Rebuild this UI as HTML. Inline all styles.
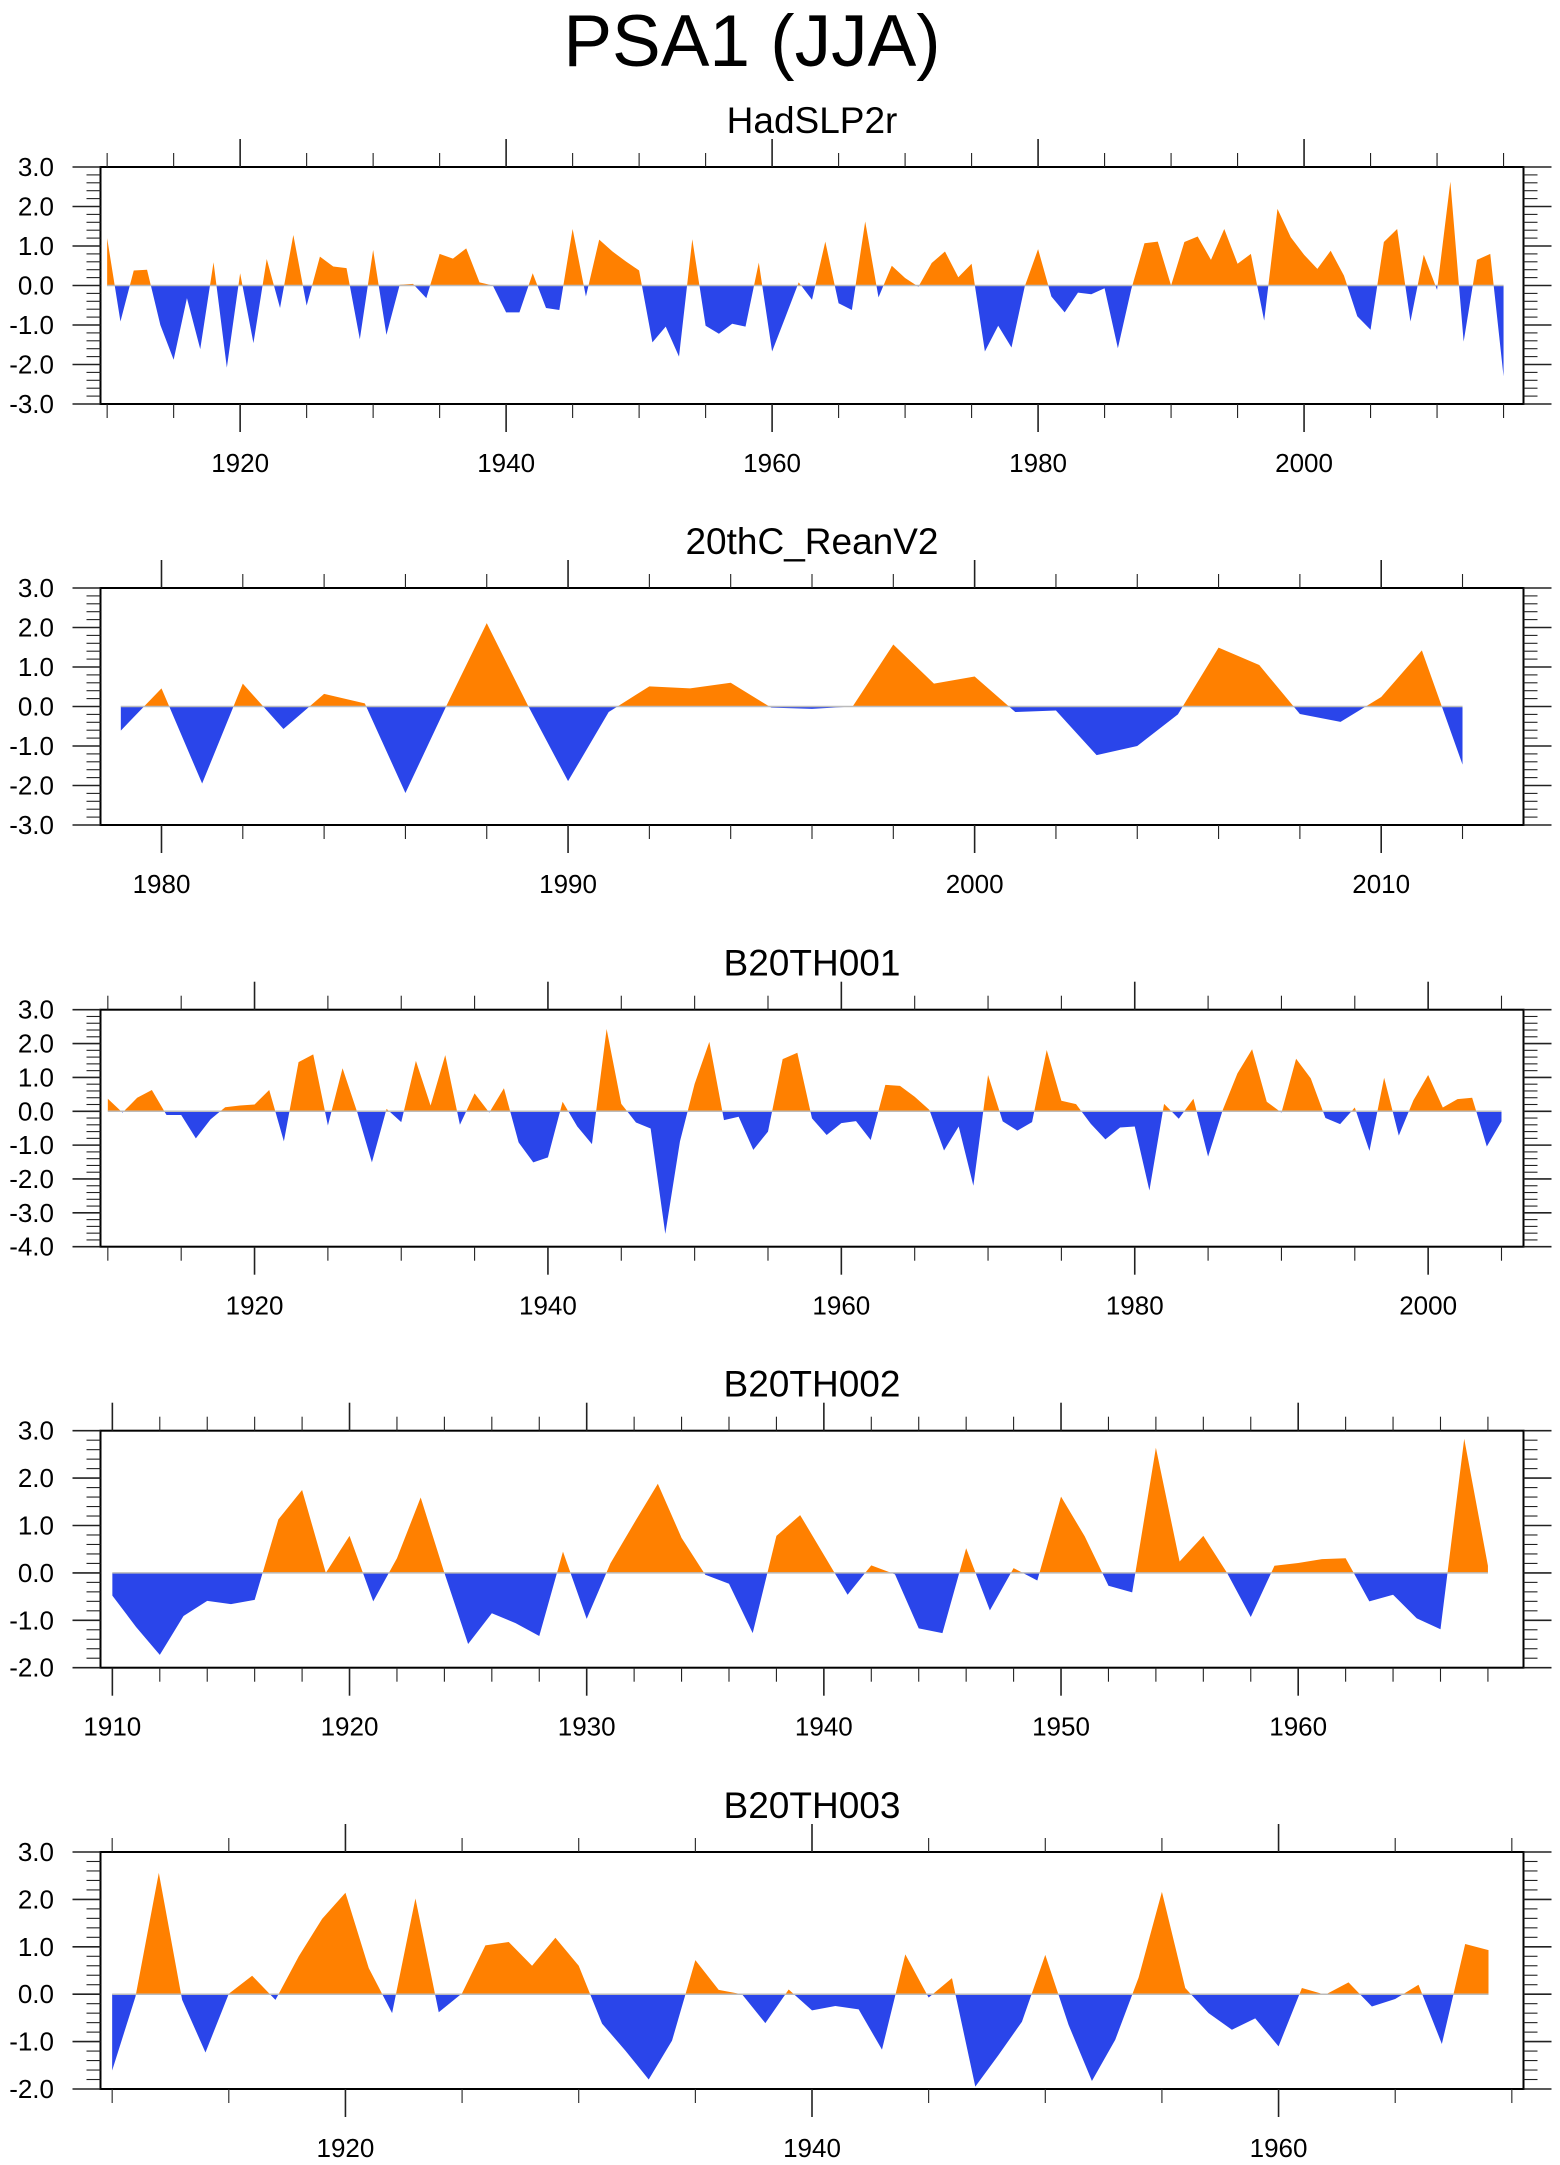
<!DOCTYPE html>
<html>
<head>
<meta charset="utf-8">
<style>
html,body{margin:0;padding:0;background:#fff;}
svg{display:block;font-family:"Liberation Sans",sans-serif;}
</style>
</head>
<body>
<svg id="chart" width="1560" height="2165" viewBox="0 0 1560 2165" xmlns="http://www.w3.org/2000/svg">
<text x="752" y="66" font-size="73" text-anchor="middle" fill="#000">PSA1 (JJA)</text>
</svg>
<script>
// ---- Panel 1: HadSLP2r (1910-2015)
const p1Start = 1910;
const p1Values = [1.2,-0.91,0.38,0.4,-1.0,-1.88,-0.32,-1.61,0.59,-2.08,
0.31,-1.46,0.67,-0.57,1.28,-0.51,0.73,0.48,0.44,-1.36,
0.9,-1.25,0.02,0.04,-0.32,0.8,0.68,0.94,0.08,0.0,
-0.68,-0.68,0.31,-0.57,-0.62,1.43,-0.28,1.16,0.86,0.61,
0.38,-1.44,-1.04,-1.8,1.17,-1.02,-1.22,-0.97,-1.04,0.58,
-1.67,-0.8,0.08,-0.36,1.11,-0.45,-0.62,1.62,-0.3,0.5,
0.19,-0.03,0.57,0.86,0.21,0.55,-1.67,-1.02,-1.57,-0.02,
0.92,-0.28,-0.68,-0.18,-0.22,-0.07,-1.59,-0.1,1.07,1.11,
0.0,1.1,1.24,0.65,1.43,0.55,0.8,-0.89,1.94,1.22,
0.78,0.42,0.88,0.25,-0.78,-1.12,1.1,1.43,-0.91,0.78,
-0.11,2.63,-1.42,0.65,0.8,-2.3];
const p1Yticks = [-3,-2,-1,0,1,2,3];
const p1Xlabels = [1920,1940,1960,1980,2000];

// ---- Panel 2: 20thC_ReanV2 (1979-2012)
const p2Start = 1979;
const p2Values = [-0.61,0.46,-1.95,0.58,-0.57,0.32,0.08,-2.19,0.0,2.11,
0.05,-1.89,-0.14,0.51,0.46,0.6,-0.03,-0.06,0.0,1.57,
0.58,0.76,-0.14,-0.1,-1.23,-1.0,-0.2,1.49,1.05,-0.19,
-0.39,0.24,1.42,-1.47];
const p2Yticks = [-3,-2,-1,0,1,2,3];
const p2Xlabels = [1980,1990,2000,2010];

// ---- Panel 3: B20TH001 (1910-2005)
const p3Start = 1910;
const p3Values = [0.37,-0.04,0.4,0.63,-0.11,-0.11,-0.8,-0.24,0.12,0.17,
0.2,0.63,-0.89,1.45,1.68,-0.42,1.27,-0.03,-1.51,0.07,
-0.32,1.49,0.17,1.66,-0.4,0.53,-0.04,0.68,-0.92,-1.51,
-1.36,0.28,-0.45,-0.97,2.43,0.22,-0.33,-0.51,-3.62,-0.89,
0.81,2.05,-0.26,-0.16,-1.14,-0.6,1.54,1.73,-0.21,-0.7,
-0.35,-0.29,-0.85,0.78,0.75,0.43,0.04,-1.16,-0.45,-2.2,
1.07,-0.3,-0.57,-0.32,1.81,0.31,0.21,-0.37,-0.83,-0.48,
-0.45,-2.34,0.22,-0.22,0.37,-1.34,0.04,1.12,1.83,0.28,
-0.04,1.55,0.97,-0.2,-0.38,0.11,-1.17,0.99,-0.72,0.33,
1.07,0.11,0.36,0.4,-1.04,-0.3];
const p3Yticks = [-4,-3,-2,-1,0,1,2,3];
const p3Xlabels = [1920,1940,1960,1980,2000];

// ---- Panel 4: B20TH002 (1910-1968)
const p4Start = 1910;
const p4Values = [-0.48,-1.14,-1.73,-0.91,-0.59,-0.66,-0.57,1.13,1.75,0.0,
0.78,-0.6,0.31,1.59,0.0,-1.5,-0.85,-1.06,-1.33,0.45,
-0.97,0.2,1.05,1.88,0.74,-0.04,-0.23,-1.27,0.78,1.22,
0.38,-0.46,0.16,-0.03,-1.17,-1.27,0.52,-0.79,0.1,-0.16,
1.61,0.77,-0.27,-0.41,2.64,0.24,0.78,0.0,-0.93,0.15,
0.21,0.29,0.31,-0.6,-0.46,-0.96,-1.19,2.83,0.15];
const p4Yticks = [-2,-1,0,1,2,3];
const p4Xlabels = [1910,1920,1930,1940,1950,1960];

// ---- Panel 5: B20TH003 (1910-1969)
const p5Start = 1910;
const p5Values = [-1.61,-0.05,2.56,-0.12,-1.23,0.01,0.39,-0.12,0.8,1.59,
2.14,0.55,-0.4,2.02,-0.38,0.02,1.03,1.1,0.6,1.19,
0.6,-0.62,-1.19,-1.8,-0.98,0.72,0.09,0.0,-0.61,0.1,
-0.34,-0.25,-0.32,-1.17,0.84,-0.07,0.34,-1.95,-1.28,-0.58,
0.83,-0.65,-1.83,-0.96,0.35,2.16,0.13,-0.4,-0.75,-0.51,
-1.1,0.13,-0.01,0.25,-0.26,-0.1,0.2,-1.05,1.06,0.93];
const p5Yticks = [-2,-1,0,1,2,3];
const p5Xlabels = [1920,1940,1960];

const NS = "http://www.w3.org/2000/svg";
const svg = document.getElementById('chart');
const LEFT = 100.5, RIGHT = 1523.5, H = 237;
const ORANGE = "#ff8000", BLUE = "#2a45ea";

function mk(tag, attrs, parent){
  const el = document.createElementNS(NS, tag);
  for (const k in attrs) el.setAttribute(k, attrs[k]);
  (parent||svg).appendChild(el);
  return el;
}

function drawPanel(key, title, top, start, values, yticks, xlabels, majorStep, minorStep){
  const g = mk('g', {});
  
  
  const n = values.length;
  const xmin = start - 0.5, xmax = start + n - 1 + 1.5;
  const ymin = yticks[0], ymax = yticks[yticks.length-1];
  const bottom = top + H;
  const xs = v => LEFT + (v - xmin) / (xmax - xmin) * (RIGHT - LEFT);
  const ys = v => bottom - (v - ymin) / (ymax - ymin) * H;

  const t = mk('text', {x:(LEFT+RIGHT)/2, y: top-34, 'font-size':37, 'text-anchor':'middle', fill:'#000'}, g);
  t.textContent = title;
  
  

  const pts = [];
  for (let i = 0; i < n; i++){
    const yr = start + i, v = values[i];
    if (i > 0){
      const pv = values[i-1];
      if ((pv > 0 && v < 0) || (pv < 0 && v > 0)){
        const f = pv / (pv - v);
        pts.push([yr - 1 + f, 0]);
      }
    }
    pts.push([yr, v]);
  }
  const z = ys(0);
  let dp = `M${xs(pts[0][0])},${z}`, dn = dp;
  for (const p of pts){
    dp += ` L${xs(p[0]).toFixed(2)},${ys(Math.max(p[1],0)).toFixed(2)}`;
    dn += ` L${xs(p[0]).toFixed(2)},${ys(Math.min(p[1],0)).toFixed(2)}`;
  }
  dp += ` L${xs(pts[pts.length-1][0])},${z} Z`;
  dn += ` L${xs(pts[pts.length-1][0])},${z} Z`;
  const pa = mk('path', {d:dp, fill:ORANGE}, g);
  
  
  const na = mk('path', {d:dn, fill:BLUE}, g);
  
  
  const zl = mk('line', {x1:xs(start), x2:xs(start+n-1), y1:z, y2:z, stroke:'#bbb', 'stroke-width':1.5}, g);
  
  

  const box = mk('rect', {x:LEFT, y:top, width:RIGHT-LEFT, height:H, fill:'none', stroke:'#000', 'stroke-width':2}, g);
  
  

  for (let v = ymin; v <= ymax + 1e-9; v += 0.2){
    const vv = Math.round(v*10)/10;
    const major = Math.abs(vv - Math.round(vv)) < 1e-6;
    const len = major ? 28 : 14;
    const y = ys(vv);
    mk('line', {x1:LEFT-len, x2:LEFT, y1:y, y2:y, stroke:'#222', 'stroke-width':major?1.6:1.1}, g);
    mk('line', {x1:RIGHT, x2:RIGHT+len, y1:y, y2:y, stroke:'#222', 'stroke-width':major?1.6:1.1}, g);
  }
  for (const v of yticks){
    const l = mk('text', {x:54, y:ys(v)+9, 'font-size':26, 'text-anchor':'end', fill:'#000'}, g);
    l.textContent = v.toFixed(1);
    
    
  }
  const first = Math.ceil(xmin / minorStep) * minorStep;
  for (let yr = first; yr <= xmax; yr += minorStep){
    const major = yr % majorStep === 0;
    const len = major ? 28 : 14;
    const x = xs(yr);
    mk('line', {x1:x, x2:x, y1:top-len, y2:top, stroke:'#222', 'stroke-width':major?1.6:1.1}, g);
    mk('line', {x1:x, x2:x, y1:bottom, y2:bottom+len, stroke:'#222', 'stroke-width':major?1.6:1.1}, g);
  }
  for (const yr of xlabels){
    const l = mk('text', {x:xs(yr), y:bottom+68, 'font-size':26, 'text-anchor':'middle', fill:'#000'}, g);
    l.textContent = String(yr);
    
    
  }
}

drawPanel('hadslp2r', 'HadSLP2r', 167, p1Start, p1Values, p1Yticks, p1Xlabels, 20, 5);
drawPanel('reanv2', '20thC_ReanV2', 588, p2Start, p2Values, p2Yticks, p2Xlabels, 10, 2);
drawPanel('b20th001', 'B20TH001', 1009.7, p3Start, p3Values, p3Yticks, p3Xlabels, 20, 5);
drawPanel('b20th002', 'B20TH002', 1430.7, p4Start, p4Values, p4Yticks, p4Xlabels, 10, 2);
drawPanel('b20th003', 'B20TH003', 1852, p5Start, p5Values, p5Yticks, p5Xlabels, 20, 5);
</script>
</body>
</html>
